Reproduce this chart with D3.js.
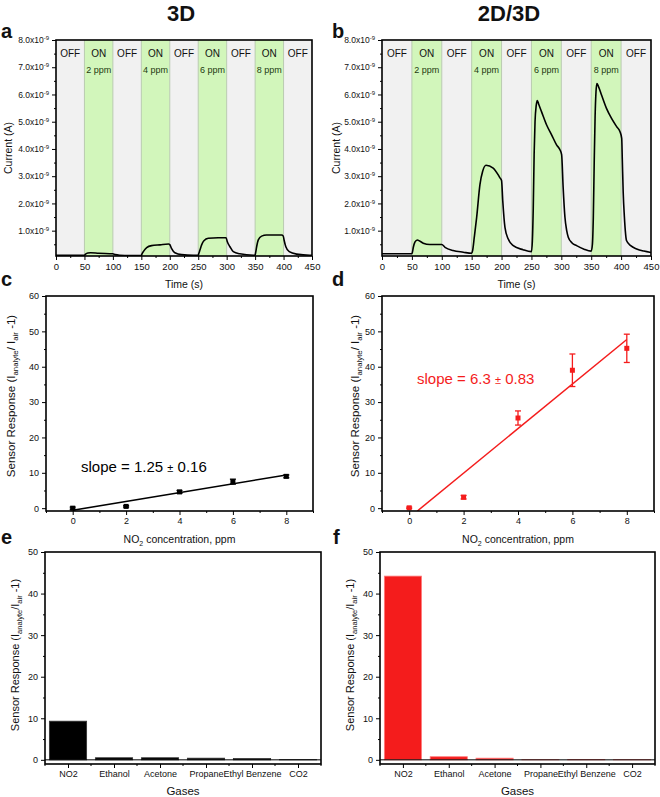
<!DOCTYPE html>
<html><head><meta charset="utf-8">
<script src="https://cdn.jsdelivr.net/npm/d3@7"></script>
<style>body{margin:0;background:#fff} svg{display:block;font-family:"Liberation Sans",Arial,Helvetica,sans-serif}</style>
</head><body><svg id="fig" width="660" height="797"></svg>
<script>
// ---------------- DATA ----------------
const bandStarts = [0, 50, 100, 150, 200, 250, 300, 350, 400];
const bandStates = ["OFF", "ON", "OFF", "ON", "OFF", "ON", "OFF", "ON", "OFF"];
const bandPpm = ["", "2 ppm", "", "4 ppm", "", "6 ppm", "", "8 ppm", ""];
const timeTicks = [0, 50, 100, 150, 200, 250, 300, 350, 400, 450];
const currentTicks = [1, 2, 3, 4, 5, 6, 7, 8]; // x10^-9 A
// current traces, [time s, current in 1e-9 A]
const trace3D = [[0,0.1],[50,0.1],[52,0.14],[56,0.18],[61,0.19],[75,0.17],[100,0.15],[104,0.12],[112,0.1],[130,0.09],[150,0.09],
  [151,0.14],[153.5,0.23],[159.4,0.38],[168,0.45],[182.8,0.48],[198,0.51],[200,0.49],[203,0.35],[209,0.19],[220.8,0.12],[241,0.1],[250,0.1],
  [251,0.16],[253,0.29],[256,0.48],[260,0.63],[267.7,0.72],[285,0.74],[299,0.74],[301,0.6],[305.8,0.41],[311.6,0.23],[323,0.15],[347,0.1],[350,0.1],
  [351,0.2],[352.7,0.41],[355.6,0.66],[361.5,0.8],[370,0.84],[396.6,0.84],[399.5,0.8],[401,0.65],[404,0.41],[410,0.23],[423,0.14],[446,0.1],[450,0.1]];
const trace2D3D = [[0,0.15],[50,0.15],[51,0.22],[52.4,0.39],[55,0.58],[59,0.66],[63,0.62],[69,0.54],[80,0.49],[100,0.49],[105.4,0.39],[119,0.27],[136,0.21],[150,0.17],
  [151.6,0.27],[154.4,0.76],[158.3,1.48],[163.9,2.7],[168.4,3.18],[174,3.4],[186,3.3],[197.3,2.94],[200,2.84],[202,2.1],[205.7,1.12],[211,0.7],[219.6,0.45],[236,0.3],[250,0.23],
  [251.5,0.6],[253,1.8],[254.5,3.8],[256,5.0],[258,5.6],[259.8,5.78],[262,5.65],[267,5.36],[275.4,4.88],[283.7,4.52],[292,4.15],[297.7,3.97],[300.5,3.79],
  [303,2.6],[306,1.5],[309,1.0],[311.6,0.76],[318,0.55],[325.5,0.45],[338,0.32],[350,0.25],
  [352,0.5],[353.5,1.5],[355,3.5],[356.5,5.2],[358,6.1],[359.5,6.4],[362,6.3],[367.4,5.97],[375.7,5.48],[384,5.12],[392.5,4.82],[398,4.64],[401,4.39],
  [402,3.6],[403.5,2.4],[405.5,1.5],[407,1.0],[409,0.64],[416,0.45],[426,0.33],[438,0.25],[450,0.2]];
const conc = [0, 2, 4, 6, 8];
const resp3D = [0.0, 0.5, 4.6, 7.5, 9.0];
const err3D = [0.3, 0.2, 0.4, 0.7, 0.4];
const resp2D3D = [0.1, 3.1, 25.5, 39.0, 45.2];
const err2D3D = [0.2, 0.5, 2.0, 4.6, 4.0];
const fit3D = [[0, -0.6], [8, 9.4]];
const fit2D3D = [[0.3, -0.8], [8, 47.7]];
const concTicks = [0, 2, 4, 6, 8];
const respTicks = [0, 10, 20, 30, 40, 50, 60];
const gases = ["NO2", "Ethanol", "Acetone", "Propane", "Ethyl Benzene", "CO2"];
const sel3D = [9.3, 0.5, 0.5, 0.4, 0.3, 0.05];
const sel2D3D = [44.2, 0.75, 0.4, 0.05, 0.1, 0.05];
const selTicks = [0, 10, 20, 30, 40, 50];

// ---------------- DRAW ----------------
const svg = d3.select("#fig");
const RED = "#f41c1c";

function frame(L, T, R, B, w) {
  svg.append("rect").attr("x", L).attr("y", T).attr("width", R - L).attr("height", B - T)
    .attr("fill", "none").attr("stroke", "#000").attr("stroke-width", w);
}
function bottomAxis(x, B, major, minor, fs, fmt) {
  const g = svg.append("g").attr("transform", `translate(0,${B})`);
  g.call(d3.axisBottom(x).tickValues(major).tickSize(4).tickPadding(3).tickSizeOuter(0).tickFormat(fmt || d3.format("d")));
  g.select(".domain").remove();
  g.selectAll("text").attr("font-size", fs).attr("font-family", null).attr("fill", "#111");
  g.selectAll("line").attr("stroke-width", 1);
  if (minor) {
    const m = svg.append("g").attr("transform", `translate(0,${B})`);
    m.call(d3.axisBottom(x).tickValues(minor).tickSize(2).tickFormat(""));
    m.select(".domain").remove();
  }
  return g;
}
function leftAxis(y, L, major, minor, fs, fmt) {
  const g = svg.append("g").attr("transform", `translate(${L},0)`);
  g.call(d3.axisLeft(y).tickValues(major).tickSize(4).tickPadding(3).tickSizeOuter(0).tickFormat(fmt || d3.format("d")));
  g.select(".domain").remove();
  g.selectAll("text").attr("font-size", fs).attr("font-family", null).attr("fill", "#111");
  if (minor) {
    const m = svg.append("g").attr("transform", `translate(${L},0)`);
    m.call(d3.axisLeft(y).tickValues(minor).tickSize(2).tickFormat(""));
    m.select(".domain").remove();
  }
  return g;
}
function label(txt, x, y, fs, opts = {}) {
  const t = svg.append("text").attr("x", x).attr("y", y).attr("font-size", fs)
    .attr("text-anchor", opts.anchor || "middle").attr("fill", opts.fill || "#111")
    .attr("font-weight", opts.bold ? "bold" : null);
  if (opts.rotate) t.attr("transform", `rotate(-90,${x},${y})`);
  t.text(txt);
  return t;
}
function sensorLabel(x, y, fs, spaced) {
  const t = svg.append("text").attr("x", x).attr("y", y).attr("font-size", fs).attr("text-anchor", "middle")
    .attr("fill", "#111").attr("transform", `rotate(-90,${x},${y})`);
  t.append("tspan").text("Sensor Response (I");
  t.append("tspan").attr("font-size", fs * 0.68).attr("dy", 2.5).text("analyte");
  t.append("tspan").attr("dy", -2.5).text(spaced ? "/ I" : "/I");
  t.append("tspan").attr("font-size", fs * 0.68).attr("dy", 2.5).text("air");
  t.append("tspan").attr("dy", -2.5).text(" -1)");
}
function concLabel(x, y) {
  const t = svg.append("text").attr("x", x).attr("y", y).attr("font-size", 10.5).attr("text-anchor", "middle").attr("fill", "#111");
  t.append("tspan").text("NO");
  t.append("tspan").attr("font-size", 7).attr("dy", 2.5).text("2");
  t.append("tspan").attr("dy", -2.5).text(" concentration, ppm");
}

let clipId = 0;
function currentPanel(o) {
  const x = d3.scaleLinear().domain([0, 450]).range([o.L, o.R]);
  const y = d3.scaleLinear().domain([0.07, 8]).range([o.B, o.T]);
  const bw = 50;
  svg.append("g").selectAll("rect").data(bandStarts).join("rect")
    .attr("x", d => x(d)).attr("y", o.T).attr("width", d => x(d + bw) - x(d)).attr("height", o.B - o.T)
    .attr("fill", (d, i) => bandStates[i] === "ON" ? "#d2f6bb" : "#f1f1f1");
  svg.append("g").selectAll("line").data(bandStarts.slice(1)).join("line")
    .attr("x1", d => x(d)).attr("x2", d => x(d)).attr("y1", o.T).attr("y2", o.B)
    .attr("stroke", "#b4c6ab").attr("stroke-width", 0.9);
  svg.append("g").selectAll("text").data(bandStarts).join("text")
    .attr("x", d => x(d + bw / 2)).attr("y", 57).attr("text-anchor", "middle").attr("font-size", 10).attr("fill", "#111")
    .text((d, i) => bandStates[i]);
  svg.append("g").selectAll("text").data(bandStarts).join("text")
    .attr("x", d => x(d + bw / 2)).attr("y", 72.5).attr("text-anchor", "middle").attr("font-size", 9).attr("fill", "#1d3a10")
    .text((d, i) => bandPpm[i]);
  const id = "clip" + (clipId++);
  svg.append("clipPath").attr("id", id).append("rect").attr("x", o.L).attr("y", o.T).attr("width", o.R - o.L).attr("height", o.B - o.T);
  svg.append("path").datum(o.trace).attr("clip-path", `url(#${id})`)
    .attr("d", d3.line().x(d => x(d[0])).y(d => y(d[1])).curve(d3.curveMonotoneX))
    .attr("fill", "none").attr("stroke", "#000").attr("stroke-width", 1.6).attr("stroke-linejoin", "round");
  bottomAxis(x, o.B, timeTicks, d3.range(25, 450, 50), 9.5);
  const ga = leftAxis(y, o.L, currentTicks, d3.range(0.5, 8, 1), 8.5, () => "");
  ga.selectAll("text").each(function (d) {
    const t = d3.select(this);
    t.append("tspan").text(d.toFixed(1) + "x10");
    t.append("tspan").attr("font-size", 6).attr("dy", "-0.5em").text("-9");
  });
  frame(o.L, o.T, o.R, o.B, 1.6);
  label("Time (s)", (o.L + o.R) / 2, 288, 10.5);
  label("Current (A)", o.ylx, (o.T + o.B) / 2, 10.5, { rotate: true });
}

function scatterPanel(o) {
  const x = d3.scaleLinear().domain([-1, 9]).range([o.L, o.R]);
  const y = d3.scaleLinear().domain([-0.8, 60]).range([o.B, o.T]);
  const id = "clip" + (clipId++);
  svg.append("clipPath").attr("id", id).append("rect").attr("x", o.L).attr("y", o.T).attr("width", o.R - o.L).attr("height", o.B - o.T);
  svg.append("path").datum(o.fit).attr("clip-path", `url(#${id})`)
    .attr("d", d3.line().x(d => x(d[0])).y(d => y(d[1])))
    .attr("stroke", o.color).attr("stroke-width", 1.5).attr("fill", "none");
  const g = svg.append("g").attr("stroke", o.color).attr("stroke-width", 1.3);
  conc.forEach((c, i) => {
    const cx = x(c), y1 = y(o.resp[i] + o.err[i]), y2 = y(o.resp[i] - o.err[i]);
    g.append("line").attr("x1", cx).attr("x2", cx).attr("y1", y1).attr("y2", y2);
    g.append("line").attr("x1", cx - 3).attr("x2", cx + 3).attr("y1", y1).attr("y2", y1);
    g.append("line").attr("x1", cx - 3).attr("x2", cx + 3).attr("y1", y2).attr("y2", y2);
  });
  svg.append("g").selectAll("rect").data(conc).join("rect")
    .attr("x", d => x(d) - 2.5).attr("y", (d, i) => y(o.resp[i]) - 2.5).attr("width", 5).attr("height", 5)
    .attr("fill", o.color);
  bottomAxis(x, o.B, concTicks, [-1, 1, 3, 5, 7, 9], 9);
  leftAxis(y, o.L, respTicks, d3.range(5, 60, 10), 9);
  frame(o.L, o.T, o.R, o.B, 1.6);
  concLabel((o.L + o.R) / 2, 543);
  sensorLabel(o.ylx, 396, 11.5, true);
  const st = svg.append("text").attr("x", o.sx).attr("y", o.sy).attr("font-size", 15).attr("fill", o.color);
  st.append("tspan").text(o.slope[0]);
  st.append("tspan").attr("font-size", 11).text("±");
  st.append("tspan").text(o.slope[1]);
}

function barPanel(o) {
  const x = d3.scaleBand().domain(gases).range([o.L, o.R]).paddingInner(0.19).paddingOuter(0.095);
  const y = d3.scaleLinear().domain([-1, 50]).range([o.B, o.T]);
  svg.append("g").selectAll("rect").data(gases).join("rect")
    .attr("x", d => x(d)).attr("width", x.bandwidth())
    .attr("y", (d, i) => y(o.vals[i])).attr("height", (d, i) => y(0) - y(o.vals[i]))
    .attr("fill", o.color).attr("stroke", o.edge).attr("stroke-width", 0.8);
  svg.append("line").attr("x1", o.L).attr("x2", o.R).attr("y1", y(0)).attr("y2", y(0)).attr("stroke", "#000").attr("stroke-width", 1);
  const step = x.step();
  const g = svg.append("g").attr("transform", `translate(0,${o.B})`);
  const xc = d3.scaleOrdinal().domain(gases).range(gases.map(d => x(d) + x.bandwidth() / 2));
  g.call(d3.axisBottom(xc).tickSize(4).tickPadding(3).tickSizeOuter(0));
  g.select(".domain").remove();
  g.selectAll("text").attr("font-size", 9).attr("font-family", null).attr("fill", "#111");
  const minor = d3.range(0, gases.length + 1).map(i => o.L + x.paddingOuter() * step - x.paddingInner() * step / 2 + i * step);
  svg.append("g").selectAll("line").data(minor).join("line")
    .attr("x1", d => d).attr("x2", d => d).attr("y1", o.B).attr("y2", o.B + 2).attr("stroke", "#000");
  leftAxis(y, o.L, selTicks, d3.range(5, 50, 10), 9);
  frame(o.L, o.T, o.R, o.B, 1.6);
  label("Gases", (o.L + o.R) / 2, 795, 11.5);
  sensorLabel(o.ylx, 655, 11, false);
}

// titles and panel letters
label("3D", 181, 21, 22, { bold: true });
label("2D/3D", 509, 21, 22, { bold: true });
[["a", 1, 38], ["b", 332, 38], ["c", 1, 286], ["d", 332, 286], ["e", 1, 544], ["f", 333, 544]]
  .forEach(([t, x, y]) => label(t, x, y, 20, { bold: true, anchor: "start" }));

currentPanel({ L: 56, R: 312, T: 40, B: 256, trace: trace3D, ylx: 12 });
currentPanel({ L: 382, R: 651, T: 40, B: 256, trace: trace2D3D, ylx: 340 });
scatterPanel({ L: 46, R: 313, T: 296, B: 511, resp: resp3D, err: err3D, fit: fit3D, color: "#000",
  sx: 81, sy: 472, slope: ["slope = 1.25 ", " 0.16"], ylx: 15 });
scatterPanel({ L: 382, R: 654, T: 296, B: 511, resp: resp2D3D, err: err2D3D, fit: fit2D3D, color: RED,
  sx: 417, sy: 384, slope: ["slope = 6.3 ", " 0.83"], ylx: 359 });
barPanel({ L: 45, R: 321, T: 552, B: 764, vals: sel3D, color: "#000", edge: "#333", ylx: 19 });
barPanel({ L: 380, R: 655, T: 552, B: 764, vals: sel2D3D, color: RED, edge: "#ff7a7a", ylx: 354 });
</script></body></html>
